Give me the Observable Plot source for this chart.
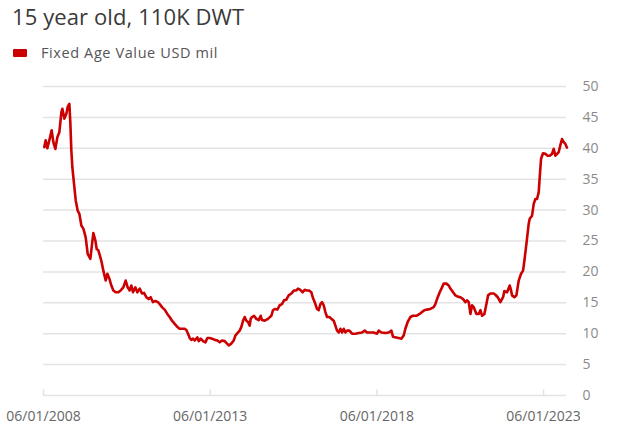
<!DOCTYPE html>
<html>
<head>
<meta charset="utf-8">
<script src="https://cdn.jsdelivr.net/npm/d3@7"></script>
<script src="https://cdn.jsdelivr.net/npm/@observablehq/plot@0.6"></script>
<style>
  html, body { margin: 0; padding: 0; background: #fff; }
  #wrap { position: relative; width: 621px; height: 431px; overflow: hidden; font-family: "Open Sans", sans-serif; }
  #title { position: absolute; left: 12px; top: 1px; font-size: 22px; letter-spacing: 0.1px; color: #3a3a3a; white-space: nowrap; }
  #legend { position: absolute; left: 13px; top: 43px; font-size: 14.5px; letter-spacing: 0.6px; color: #555; display: flex; align-items: center; white-space: nowrap; }
  #legend .sw { width: 14px; height: 8px; background: #cc0000; border-radius: 1px; margin-right: 14px; }
  #chart { position: absolute; left: 0; top: 70px; }
</style>
</head>
<body>
<div id="wrap">
  <div id="title">15 year old, 110K DWT</div>
  <div id="legend"><div class="sw"></div><span>Fixed Age Value USD mil</span></div>
  <div id="chart"></div>
</div>
<script>
const seriesName = "Fixed Age Value USD mil";
// decimal-year positions of the readings
const years = [
2008.44,2008.48,2008.53,2008.59,2008.66,2008.71,2008.77,2008.83,2008.89,2008.95,2008.98,2009.04,2009.10,2009.14,2009.19,2009.22,2009.25,2009.28,2009.34,2009.38,2009.44,2009.49,2009.55,2009.61,2009.68,2009.74,2009.82,2009.86,2009.91,2009.97,2010.01,2010.06,2010.15,2010.21,2010.28,2010.33,2010.39,2010.45,2010.51,2010.58,2010.66,2010.73,2010.81,2010.88,2010.94,2011.00,2011.05,2011.10,2011.17,2011.23,2011.30,2011.37,2011.43,2011.50,2011.57,2011.63,2011.70,2011.77,2011.85,2011.90,2011.97,2012.05,2012.13,2012.20,2012.27,2012.35,2012.43,2012.50,2012.57,2012.65,2012.70,2012.75,2012.80,2012.85,2012.90,2012.95,2013.03,2013.07,2013.13,2013.20,2013.27,2013.33,2013.40,2013.47,2013.55,2013.63,2013.70,2013.77,2013.85,2013.90,2013.97,2014.05,2014.12,2014.17,2014.25,2014.30,2014.35,2014.40,2014.45,2014.50,2014.55,2014.60,2014.63,2014.67,2014.73,2014.80,2014.87,2014.93,2014.97,2015.05,2015.15,2015.25,2015.30,2015.35,2015.43,2015.50,2015.57,2015.63,2015.70,2015.77,2015.85,2015.93,2016.00,2016.05,2016.12,2016.19,2016.25,2016.31,2016.38,2016.45,2016.49,2016.55,2016.62,2016.67,2016.72,2016.77,2016.82,2016.87,2016.92,2016.99,2017.05,2017.12,2017.17,2017.22,2017.27,2017.32,2017.37,2017.42,2017.47,2017.52,2017.59,2017.67,2017.77,2017.87,2017.97,2018.05,2018.12,2018.22,2018.32,2018.42,2018.47,2018.55,2018.67,2018.77,2018.85,2018.90,2018.99,2019.07,2019.15,2019.22,2019.27,2019.34,2019.42,2019.50,2019.60,2019.70,2019.77,2019.84,2019.92,2020.02,2020.12,2020.17,2020.22,2020.30,2020.37,2020.42,2020.50,2020.57,2020.62,2020.70,2020.77,2020.84,2020.92,2021.00,2021.07,2021.12,2021.17,2021.22,2021.27,2021.32,2021.40,2021.47,2021.52,2021.57,2021.64,2021.70,2021.75,2021.82,2021.92,2021.97,2022.04,2022.12,2022.20,2022.24,2022.32,2022.40,2022.44,2022.47,2022.54,2022.60,2022.67,2022.74,2022.80,2022.84,2022.90,2022.97,2023.00,2023.07,2023.12,2023.17,2023.22,2023.27,2023.30,2023.34,2023.40,2023.47,2023.54,2023.60,2023.67,2023.72,2023.77,2023.82,2023.87,2023.92,2023.97,2024.02,2024.07,2024.12
];
const values = [
40.2,41.3,40.0,41.3,42.9,41.0,39.9,41.8,42.6,45.8,46.4,44.8,45.6,46.7,47.2,44.0,39.6,36.9,33.7,31.6,29.9,29.4,27.5,27.0,25.6,22.9,22.1,24.0,26.3,25.1,23.7,23.5,21.8,20.2,18.6,19.7,18.9,17.8,17.0,16.7,16.7,17.0,17.5,18.6,17.5,17.0,17.8,16.7,17.5,16.7,17.3,16.5,16.6,15.9,15.6,15.9,15.1,15.3,15.1,14.8,14.3,13.9,13.2,12.7,12.1,11.6,11.1,10.8,10.8,10.8,10.6,10.0,9.3,9.0,9.2,8.9,9.4,8.8,9.2,8.8,8.6,9.3,9.3,9.2,9.0,8.9,8.6,8.9,8.8,8.5,8.1,8.4,8.9,9.7,10.2,10.5,11.1,12.1,12.7,12.1,11.9,11.3,12.4,12.7,12.9,12.4,12.2,12.9,12.2,12.1,12.4,12.9,13.8,14.0,13.9,14.6,14.8,15.4,15.5,16.2,16.5,17.0,17.0,17.3,17.1,16.7,17.1,17.0,17.0,16.7,15.9,15.1,14.0,13.8,14.8,15.1,14.6,13.5,12.7,12.7,12.4,12.1,11.3,10.5,10.2,10.8,10.2,10.8,10.2,10.5,10.5,10.0,10.0,10.1,10.2,10.5,10.2,10.2,10.2,10.0,10.5,10.2,10.1,10.2,10.5,9.5,9.4,9.3,9.2,9.7,10.8,11.9,12.7,12.9,12.9,13.2,13.5,13.8,13.9,14.0,14.3,14.8,15.6,16.7,17.5,18.1,18.1,17.8,17.3,16.7,16.2,16.0,15.9,15.6,15.1,15.4,15.1,13.2,14.6,14.3,13.2,13.2,13.8,12.9,13.2,14.8,16.2,16.5,16.5,16.3,15.9,15.1,15.9,16.9,16.7,17.8,17.0,16.2,15.9,16.2,18.6,19.7,20.2,21.8,24.5,27.8,28.6,29.1,31.0,31.8,31.8,32.9,35.3,38.3,39.2,39.1,38.8,38.8,39.1,39.9,38.8,39.1,39.4,40.5,41.5,41.0,40.7,40.1
];
const xTicks = ["2008-06-01", "2013-06-01", "2018-06-01", "2023-06-01"];
const xDomain = ["2008-06-01", "2024-02-08"];
const yTicks = [0, 5, 10, 15, 20, 25, 30, 35, 40, 45, 50];

function toDate(y) {
  const yr = Math.floor(y);
  const s = Date.UTC(yr, 0, 1), e = Date.UTC(yr + 1, 0, 1);
  return new Date(s + (y - yr) * (e - s));
}
const data = years.map((y, i) => ({date: toDate(y), value: values[i], series: seriesName}));
const tickDates = xTicks.map(d => new Date(d + "T00:00:00Z"));
const fmt = d3.utcFormat("%m/%d/%Y");

const chart = Plot.plot({
  width: 621,
  height: 361,
  marginLeft: 43,
  marginRight: 55,
  marginTop: 16,
  marginBottom: 36,
  style: {fontFamily: "'Open Sans', sans-serif", background: "#fff", overflow: "visible"},
  x: {type: "utc", domain: xDomain.map(d => new Date(d + "T00:00:00Z"))},
  y: {domain: [0, 50]},
  marks: [
    Plot.gridY(yTicks, {stroke: "#e3e3e3", strokeOpacity: 1, strokeWidth: 1.5}),
    Plot.ruleX(tickDates, {y1: 0, y2: 0.9, stroke: "#e3e3e3", strokeWidth: 1.5}),
    Plot.axisY(yTicks, {anchor: "right", tickSize: 0, tickPadding: 16, fontSize: 14, fill: "#8a8a8a", label: null}),
    Plot.axisX(tickDates, {anchor: "bottom", tickSize: 0, tickPadding: 16, fontSize: 14, letterSpacing: 0.4, fill: "#666", tickFormat: fmt, label: null}),
    Plot.line(data, {x: "date", y: "value", stroke: "#cc0000", strokeWidth: 2.6, strokeLinejoin: "round", curve: "linear"})
  ]
});
document.getElementById("chart").appendChild(chart);
</script>
</body>
</html>
